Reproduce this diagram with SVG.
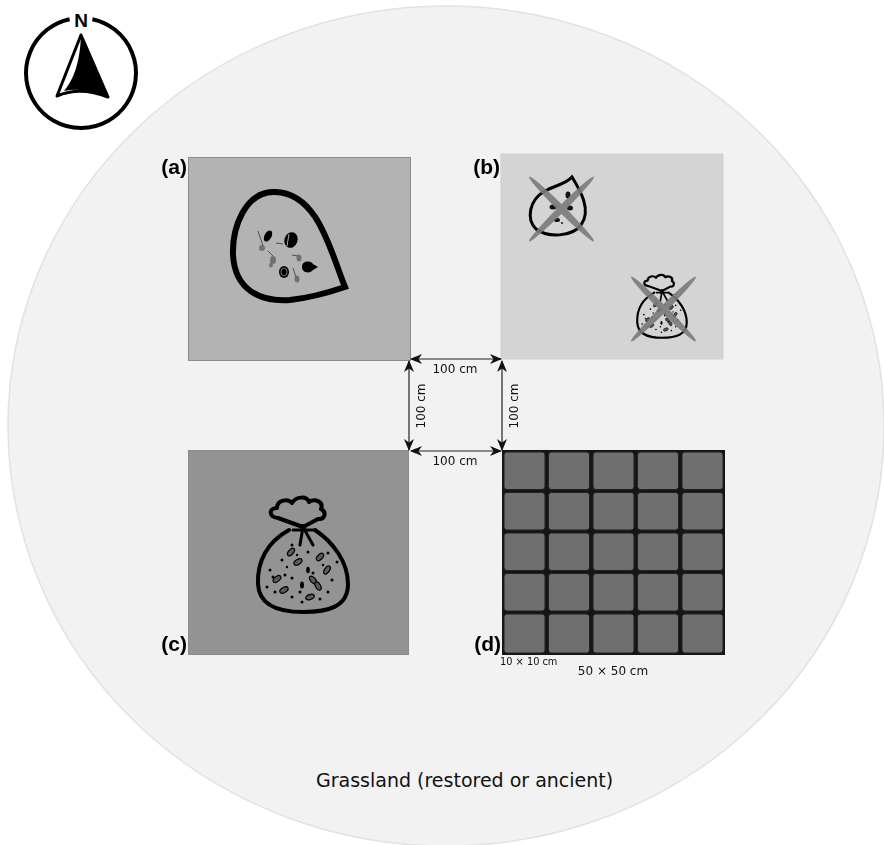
<svg xmlns="http://www.w3.org/2000/svg" width="884" height="845" viewBox="0 0 884 845">
  <style>
    .lbl { font-family: "Liberation Sans", Arial, sans-serif; font-weight: bold; font-size: 21px; fill: #000; }
    .dim { font-family: "DejaVu Sans", Verdana, sans-serif; font-size: 12px; fill: #111; }
    .dimline { stroke: #222; stroke-width: 1.2; fill: none; marker-start: url(#tip); marker-end: url(#tip); }
    .plot { stroke: #8c8c8c; stroke-width: 1; }
    .cross { fill: #7a7a7a; opacity: 0.9; }
    .leaf { fill: #5a5a5a; stroke: #000; stroke-width: 1.2; }
    .dot { fill: #000; }
    .cell { fill: #6f6f6f; stroke: #222; stroke-width: 1; }
  </style>
  <defs>
    <marker id="tip" viewBox="0 0 12 10" refX="11" refY="5" markerWidth="12" markerHeight="10" markerUnits="userSpaceOnUse" orient="auto-start-reverse">
      <path d="M0,0 L12,5 L0,10 L3.5,5 Z" fill="#111"/>
    </marker>
    <!-- seed bag drawn around its knot at (0,0) -->
    <g id="bag">
      <path d="M0,0 L-25,-9 C-34,-10 -35,-19 -26,-19 C-26,-27 -15,-29 -11,-24 C-7,-31 4,-31 6,-25 C12,-29 21,-25 18,-18 C24,-15 22,-7 15,-8 Z" fill="none" stroke="#000" stroke-width="4" stroke-linejoin="round"/>
      <path d="M-14,3 C-36,15 -46,35 -45,57 C-44,79 -24,85 0,85 C25,85 45,80 45,57 C45,35 30,15 12,3" fill="none" stroke="#000" stroke-width="4" stroke-linecap="round"/>
      <path d="M0,0 L-3,18 M0,0 L10,18 M-10,3 L10,3" fill="none" stroke="#000" stroke-width="3" stroke-linecap="round"/>
      <circle cx="0" cy="0" r="3" fill="#000"/>
      <g class="leaf">
        <ellipse cx="-12" cy="25" rx="2.5" ry="4.5" transform="rotate(40 -12 25)"/>
        <ellipse cx="17" cy="30" rx="2.5" ry="4.5" transform="rotate(45 17 30)"/>
        <ellipse cx="-5" cy="35" rx="2.5" ry="4.5" transform="rotate(60 -5 35)"/>
        <ellipse cx="24" cy="43" rx="2.5" ry="4.5" transform="rotate(35 24 43)"/>
        <ellipse cx="-26" cy="52" rx="2.5" ry="4.5" transform="rotate(50 -26 52)"/>
        <ellipse cx="10" cy="53" rx="2.5" ry="4.5" transform="rotate(-40 10 53)"/>
        <ellipse cx="-19" cy="63" rx="2.5" ry="4.5" transform="rotate(60 -19 63)"/>
        <ellipse cx="15" cy="59" rx="2.5" ry="4.5" transform="rotate(-30 15 59)"/>
        <ellipse cx="7" cy="70" rx="2.5" ry="4.5" transform="rotate(70 7 70)"/>
      </g>
      <g class="dot">
        <ellipse cx="-1" cy="58" rx="2" ry="3.5"/>
        <ellipse cx="5" cy="43" rx="1.8" ry="3.2"/>
        <circle cx="-21" cy="33" r="1.5"/>
        <circle cx="-11" cy="18" r="1.5"/>
        <circle cx="5" cy="25" r="1.5"/>
        <circle cx="34" cy="35" r="1.5"/>
        <circle cx="25" cy="26" r="1.5"/>
        <circle cx="-33" cy="43" r="1.5"/>
        <circle cx="-36" cy="60" r="1.5"/>
        <circle cx="-28" cy="65" r="1.5"/>
        <circle cx="-11" cy="70" r="1.5"/>
        <circle cx="-1" cy="75" r="1.5"/>
        <circle cx="17" cy="72" r="1.5"/>
        <circle cx="25" cy="65" r="1.5"/>
        <circle cx="-11" cy="51" r="1.5"/>
        <circle cx="10" cy="46" r="1.5"/>
        <circle cx="-18" cy="48" r="1.5"/>
        <circle cx="-3" cy="65" r="1.5"/>
        <circle cx="29" cy="53" r="1.5"/>
        <circle cx="-30" cy="50" r="1.5"/>
        <circle cx="-16" cy="40" r="1.2"/>
        <circle cx="20" cy="38" r="1.2"/>
        <circle cx="-6" cy="28" r="1.2"/>
      </g>
    </g>
  </defs>

  <!-- grassland background -->
  <rect x="0" y="0" width="884" height="845" fill="#ffffff"/>
  <ellipse id="grassland" cx="446" cy="426" rx="438" ry="420" fill="#f2f2f2" stroke="#e2e2e2" stroke-width="1.5"/>

  <!-- north arrow -->
  <g id="compass">
    <path d="M92.4,19.2 A55,55 0 1 1 69.6,19.2" fill="none" stroke="#000" stroke-width="4"/>
    <text x="81" y="27" text-anchor="middle" font-family="Liberation Sans, Arial, sans-serif" font-weight="bold" font-size="19">N</text>
    <path d="M81,35 L57,96 Q80,86 108,97 Z" fill="#fff" stroke="#000" stroke-width="3" stroke-linejoin="round"/>
    <path d="M81,35 L108,97 Q84,87 64,91 C74,79 80,62 81,35 Z" fill="#000"/>
  </g>

  <!-- plot (a): seed rain trap -->
  <g id="plot-a">
    <rect class="plot" x="188.5" y="157.5" width="222" height="203" fill="#b3b3b3"/>
    <path d="M345,287 C330,250 318,193 275,192 C245,191 232,228 233,255 C235,290 260,302 290,300 C310,298 330,292 345,287 Z" fill="none" stroke="#000" stroke-width="6" stroke-linejoin="miter"/>
    <g fill="#000">
      <ellipse cx="268" cy="236" rx="3.5" ry="6" transform="rotate(30 268 236)"/>
      <ellipse cx="291" cy="240" rx="6.5" ry="8" transform="rotate(20 291 240)"/>
      <ellipse cx="284" cy="272" rx="5" ry="6"/>
      <path d="M302,267 C302,261 310,260 313,264 L318,267 L313,270 C310,274 302,273 302,267 Z"/>
    </g>
    <path d="M289,234 L287,246" stroke="#aaa" stroke-width="1"/>
    <ellipse cx="284" cy="272" rx="3" ry="4" fill="none" stroke="#777" stroke-width="1"/>
    <g stroke="#444" stroke-width="0.9" fill="none">
      <path d="M258,231 L263,246"/>
      <path d="M276,243 L283,244"/>
      <path d="M268,251 L273,256"/>
      <path d="M292,255 L298,256"/>
      <path d="M293,268 L296,277"/>
    </g>
    <g fill="#5c5c5c" opacity="0.75">
      <ellipse cx="262" cy="248" rx="3" ry="3"/>
      <ellipse cx="273" cy="260" rx="3" ry="4"/>
      <ellipse cx="271" cy="265" rx="2" ry="2.5"/>
      <ellipse cx="299" cy="258" rx="2.5" ry="3.5"/>
      <ellipse cx="297" cy="279" rx="2.5" ry="3.5"/>
    </g>
  </g>

  <!-- plot (b): exclusion treatment -->
  <g id="plot-b">
    <rect x="501" y="154" width="222" height="205" fill="#d4d4d4" stroke="#d0d0d0" stroke-width="1"/>
    <path d="M572,177 C580,190 592,210 581,225 C572,237 548,238 536,229 C526,219 529,200 545,191 C556,185 566,184 572,177 Z" fill="none" stroke="#000" stroke-width="3"/>
    <g fill="#111">
      <ellipse cx="568" cy="195" rx="2.5" ry="3.5"/>
      <ellipse cx="553" cy="207" rx="3.5" ry="2.5"/>
      <ellipse cx="570" cy="208" rx="3" ry="2.5"/>
      <ellipse cx="557" cy="220" rx="3" ry="2"/>
      <circle cx="562" cy="223" r="1"/>
    </g>
    <use href="#bag" transform="translate(662 291) scale(0.55)"/>
    <g class="cross">
      <ellipse cx="561.5" cy="209" rx="46" ry="3.5" transform="rotate(45 561.5 209)"/>
      <ellipse cx="561.5" cy="209" rx="46" ry="3.5" transform="rotate(-45 561.5 209)"/>
      <ellipse cx="663.5" cy="309" rx="46" ry="3.5" transform="rotate(45 663.5 309)"/>
      <ellipse cx="663.5" cy="309" rx="46" ry="3.5" transform="rotate(-45 663.5 309)"/>
    </g>
  </g>

  <!-- plot (c): seed addition -->
  <g id="plot-c">
    <rect class="plot" x="188.5" y="450.5" width="220" height="204" fill="#939393" stroke="#7a7a7a"/>
    <use href="#bag" transform="translate(303 527)"/>
  </g>

  <!-- plot (d): 5 x 5 sampling grid -->
  <g id="plot-d">
    <rect x="502" y="450" width="223" height="205" fill="#151515"/>
    <g class="cell">
      <rect x="504" y="452" width="41" height="37.5" rx="3"/>
      <rect x="548.5" y="452" width="41" height="37.5" rx="3"/>
      <rect x="593" y="452" width="41" height="37.5" rx="3"/>
      <rect x="637.5" y="452" width="41" height="37.5" rx="3"/>
      <rect x="682" y="452" width="41" height="37.5" rx="3"/>
      <rect x="504" y="492.5" width="41" height="37.5" rx="3"/>
      <rect x="548.5" y="492.5" width="41" height="37.5" rx="3"/>
      <rect x="593" y="492.5" width="41" height="37.5" rx="3"/>
      <rect x="637.5" y="492.5" width="41" height="37.5" rx="3"/>
      <rect x="682" y="492.5" width="41" height="37.5" rx="3"/>
      <rect x="504" y="533" width="41" height="37.5" rx="3"/>
      <rect x="548.5" y="533" width="41" height="37.5" rx="3"/>
      <rect x="593" y="533" width="41" height="37.5" rx="3"/>
      <rect x="637.5" y="533" width="41" height="37.5" rx="3"/>
      <rect x="682" y="533" width="41" height="37.5" rx="3"/>
      <rect x="504" y="573.5" width="41" height="37.5" rx="3"/>
      <rect x="548.5" y="573.5" width="41" height="37.5" rx="3"/>
      <rect x="593" y="573.5" width="41" height="37.5" rx="3"/>
      <rect x="637.5" y="573.5" width="41" height="37.5" rx="3"/>
      <rect x="682" y="573.5" width="41" height="37.5" rx="3"/>
      <rect x="504" y="614" width="41" height="39" rx="3"/>
      <rect x="548.5" y="614" width="41" height="39" rx="3"/>
      <rect x="593" y="614" width="41" height="39" rx="3"/>
      <rect x="637.5" y="614" width="41" height="39" rx="3"/>
      <rect x="682" y="614" width="41" height="39" rx="3"/>
    </g>
    <text x="500" y="665" font-family="DejaVu Sans, Verdana, sans-serif" font-size="9.8" fill="#111">10 × 10 cm</text>
    <text class="dim" x="613" y="675" text-anchor="middle">50 × 50 cm</text>
  </g>

  <!-- plot letters -->
  <g id="labels">
    <text class="lbl" x="187" y="174" text-anchor="end">(a)</text>
    <text class="lbl" x="500" y="174" text-anchor="end">(b)</text>
    <text class="lbl" x="187" y="651" text-anchor="end">(c)</text>
    <text class="lbl" x="501" y="651" text-anchor="end">(d)</text>
  </g>

  <!-- spacing dimensions -->
  <g id="connectors">
    <line class="dimline" x1="411" y1="359" x2="501" y2="359"/>
    <line class="dimline" x1="411" y1="451" x2="501" y2="451"/>
    <line class="dimline" x1="409" y1="361" x2="409" y2="450"/>
    <line class="dimline" x1="502" y1="361" x2="502" y2="450"/>
    <text class="dim" x="455" y="373" text-anchor="middle">100 cm</text>
    <text class="dim" x="455" y="465" text-anchor="middle">100 cm</text>
    <text class="dim" transform="translate(425 406) rotate(-90)" text-anchor="middle">100 cm</text>
    <text class="dim" transform="translate(518 406) rotate(-90)" text-anchor="middle">100 cm</text>
  </g>

  <text x="316" y="787" font-family="DejaVu Sans, Verdana, sans-serif" font-size="19" fill="#111">Grassland (restored or ancient)</text>
</svg>
